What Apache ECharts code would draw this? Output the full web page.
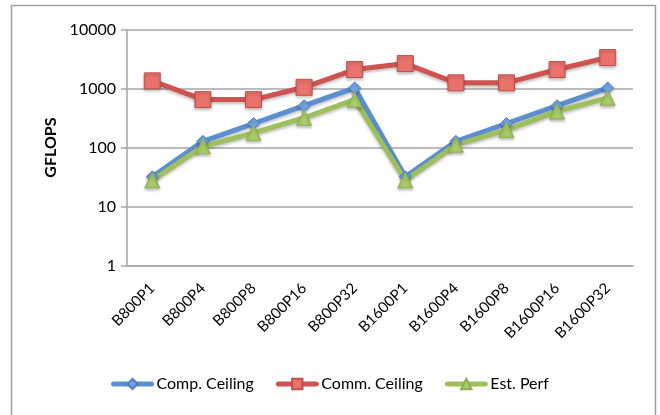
<!DOCTYPE html>
<html>
<head>
<meta charset="utf-8">
<script src="https://cdn.jsdelivr.net/npm/echarts@6/dist/echarts.min.js"></script>
<style>
  html, body { margin: 0; padding: 0; background: #fff; }
  #chart { width: 660px; height: 415px; }
</style>
</head>
<body>
<div id="chart"></div>
<script>
// Configurations (problem size B, processor count P)
const categories = ['B800P1', 'B800P4', 'B800P8', 'B800P16', 'B800P32',
                    'B1600P1', 'B1600P4', 'B1600P8', 'B1600P16', 'B1600P32'];

// GFLOPS per configuration
const compCeiling = [32, 128, 256, 512, 1024, 32, 128, 256, 512, 1024];
const commCeiling = [1350, 650, 650, 1050, 2100, 2650, 1250, 1250, 2100, 3350];
const estPerf     = [28, 105, 178, 320, 650, 28, 112, 200, 410, 700];

const yTicks = [1, 10, 100, 1000, 10000];

const FONT = 'Lato, "Open Sans", sans-serif';
const GRID_GRAY = '#a6a6a6';

const chart = echarts.init(document.getElementById('chart'), null, { renderer: 'canvas' });

function lineSeries(name, data, color, symbol, size, markerFill, markerBorder) {
  return {
    name: name,
    type: 'line',
    data: data,
    symbol: symbol,
    symbolSize: size,
    lineStyle: {
      color: color, width: 5,
      shadowColor: 'rgba(0,0,0,0.25)', shadowBlur: 3, shadowOffsetY: 2
    },
    itemStyle: {
      color: markerFill, borderColor: markerBorder, borderWidth: 1,
      shadowColor: 'rgba(0,0,0,0.25)', shadowBlur: 3, shadowOffsetY: 2
    },
    emphasis: { disabled: true },
    animation: false
  };
}

function legendItem(name, color) {
  return {
    name: name,
    lineStyle: { color: color, width: 5, cap: 'round' }
  };
}

chart.setOption({
  backgroundColor: '#ffffff',
  animation: false,
  graphic: [{
    type: 'rect',
    shape: { x: 11.5, y: 5.5, width: 644, height: 420 },
    style: { fill: 'none', stroke: '#a0a0a0', lineWidth: 1.5 },
    silent: true
  }],
  grid: { left: 127, right: 27, top: 29.5, bottom: 149.3, containLabel: false },
  legend: {
    bottom: 18,
    left: 'center',
    itemWidth: 38,
    itemHeight: 13,
    itemGap: 22,
    textStyle: { fontFamily: FONT, fontSize: 16, color: '#000' },
    data: [
      legendItem('Comp. Ceiling', '#5b8fcf'),
      legendItem('Comm. Ceiling', '#cf5450'),
      legendItem('Est. Perf', '#9dc05c')
    ]
  },
  xAxis: {
    type: 'category',
    data: categories,
    boundaryGap: true,
    axisLine: { show: true, lineStyle: { color: GRID_GRAY, width: 1.5 } },
    axisTick: { show: false },
    axisLabel: {
      rotate: 45, margin: 20, interval: 0,
      fontFamily: FONT, fontSize: 15, color: '#000'
    }
  },
  yAxis: {
    type: 'log',
    logBase: 10,
    min: yTicks[0],
    max: yTicks[yTicks.length - 1],
    name: 'GFLOPS',
    nameLocation: 'middle',
    nameGap: 68,
    nameTextStyle: { fontFamily: FONT, fontSize: 16, fontWeight: 'bold', color: '#000' },
    axisLine: { show: true, lineStyle: { color: GRID_GRAY, width: 1.5 } },
    axisTick: { show: true, length: 6, inside: false, lineStyle: { color: GRID_GRAY, width: 1.5 } },
    axisLabel: {
      margin: 11, fontFamily: FONT, fontSize: 16, color: '#000',
      formatter: v => String(Math.round(v))
    },
    splitLine: { show: true, lineStyle: { color: GRID_GRAY, width: 1.5 } }
  },
  series: [
    lineSeries('Comp. Ceiling', compCeiling, '#5b8fcf', 'diamond', 12, '#6fa3e0', '#4f81bd'),
    lineSeries('Comm. Ceiling', commCeiling, '#cf5450', 'rect', 16, '#ea726c', '#c0504d'),
    lineSeries('Est. Perf', estPerf, '#9dc05c', 'triangle', 15, '#a9cc68', '#8fb04e')
  ]
});
</script>
</body>
</html>
